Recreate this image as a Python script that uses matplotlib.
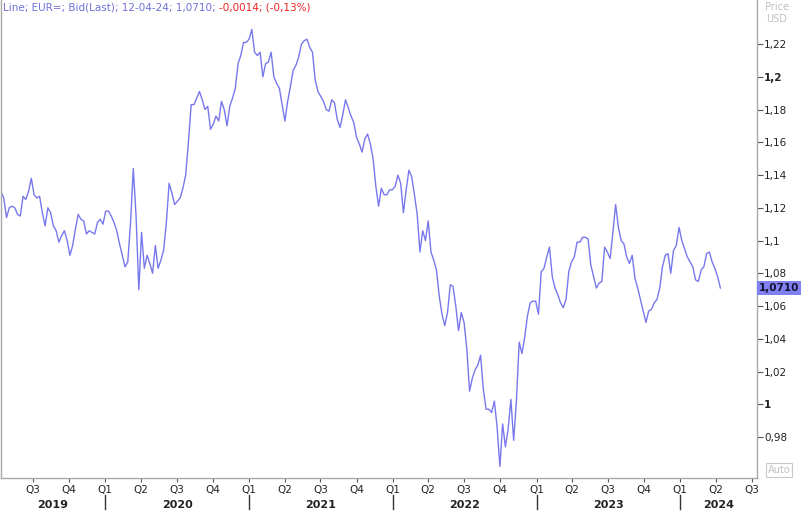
import matplotlib
matplotlib.use("Agg")
import matplotlib.pyplot as plt
import matplotlib.dates as mdates
import matplotlib.transforms as mtransforms
import pandas as pd
import numpy as np

# ---- data (weekly EUR/USD bid) ----
start_date = "2019-04-12"
prices = [
 1.130,1.126,1.114,1.120,1.121,1.120,1.116,1.115,1.127,1.125,
 1.130,1.138,1.128,1.126,1.127,1.117,1.109,1.120,1.117,1.109,
 1.106,1.099,1.103,1.106,1.100,1.091,1.097,1.107,1.116,1.113,
 1.112,1.104,1.106,1.105,1.104,1.111,1.113,1.110,1.118,1.118,
 1.115,1.111,1.106,1.098,1.091,1.084,1.087,1.111,1.144,1.115,
 1.070,1.105,1.083,1.091,1.086,1.080,1.097,1.083,1.088,1.094,
 1.111,1.135,1.129,1.122,1.124,1.126,1.132,1.140,1.160,1.183,
 1.183,1.187,1.191,1.186,1.180,1.182,1.168,1.171,1.176,1.173,
 1.185,1.180,1.170,1.182,1.187,1.193,1.208,1.213,1.221,1.221,
 1.223,1.229,1.215,1.213,1.215,1.200,1.208,1.209,1.215,1.200,
 1.196,1.193,1.183,1.173,1.185,1.194,1.204,1.207,1.212,1.220,
 1.222,1.223,1.218,1.215,1.198,1.191,1.188,1.185,1.180,1.179,
 1.186,1.184,1.174,1.169,1.177,1.186,1.181,1.176,1.172,1.163,
 1.159,1.154,1.162,1.165,1.159,1.150,1.133,1.121,1.132,1.128,
 1.128,1.131,1.131,1.133,1.140,1.135,1.117,1.131,1.143,1.139,
 1.128,1.116,1.093,1.106,1.100,1.112,1.093,1.088,1.082,1.066,
 1.055,1.048,1.056,1.073,1.072,1.060,1.045,1.056,1.050,1.034,
 1.008,1.016,1.021,1.024,1.030,1.009,0.997,0.997,0.995,1.002,
 0.986,0.962,0.988,0.974,0.985,1.003,0.978,1.002,1.038,1.031,
 1.041,1.054,1.062,1.063,1.063,1.055,1.081,1.083,1.090,1.096,
 1.078,1.071,1.067,1.062,1.059,1.064,1.081,1.087,1.090,1.099,
 1.099,1.102,1.102,1.101,1.085,1.078,1.071,1.074,1.075,1.096,
 1.093,1.089,1.105,1.122,1.108,1.100,1.098,1.090,1.086,1.091,
 1.077,1.071,1.064,1.057,1.050,1.057,1.058,1.062,1.064,1.071,
 1.084,1.091,1.092,1.080,1.094,1.097,1.108,1.100,1.095,1.090,
 1.087,1.084,1.076,1.075,1.082,1.084,1.092,1.093,1.087,1.083,
 1.078,1.071,
]
last_price = 1.0710
y_ticks = [0.98, 1.0, 1.02, 1.04, 1.06, 1.08, 1.10, 1.12, 1.14, 1.16, 1.18, 1.20, 1.22]
y_labels = ["0,98", "1", "1,02", "1,04", "1,06", "1,08", "1,1", "1,12", "1,14", "1,16", "1,18", "1,2", "1,22"]
years = [2019, 2020, 2021, 2022, 2023, 2024]

dates = pd.date_range(start_date, periods=len(prices), freq="7D")

W, H = 804, 519
fig = plt.figure(figsize=(W / 100, H / 100), dpi=100)
ax = fig.add_axes([1 / W, 1 - 478 / H, 756 / W, 478 / H])

line_color = "#7878ee"
ax.plot(dates, prices, color=line_color, lw=1.0)

x0 = pd.Timestamp(start_date)
x1 = pd.Timestamp("2024-07-14")
ax.set_xlim(x0, x1)
ax.set_ylim(0.955, 1.2469)

for s in ["left", "right", "bottom"]:
    ax.spines[s].set_color("#a8a8a8")
    ax.spines[s].set_linewidth(1.0)
ax.spines["top"].set_visible(False)

# y axis on right
ax.yaxis.tick_right()
ax.set_yticks(y_ticks)
ax.set_yticklabels(y_labels)
ax.tick_params(axis="y", direction="out", length=4, width=0.8, color="#555555",
               labelsize=7.5, pad=1, labelcolor="#222222")
for lbl, v in zip(ax.get_yticklabels(), y_ticks):
    if abs(v - round(v, 1)) < 1e-9 and round(v, 1) in (1.0, 1.2):
        lbl.set_fontweight("bold")

# x axis quarters
qdates = pd.date_range("2019-07-01", "2024-07-01", freq="QS")
qlabels = [f"Q{(d.month - 1) // 3 + 1}" for d in qdates]
ax.set_xticks(qdates)
ax.set_xticklabels(qlabels)
ax.tick_params(axis="x", direction="out", length=3, width=0.8, color="#555555",
               labelsize=7.5, pad=2, labelcolor="#222222")

trans = mtransforms.blended_transform_factory(ax.transData, ax.transAxes)
for y in years:
    ys = max(pd.Timestamp(f"{y}-01-01"), x0)
    ye = min(pd.Timestamp(f"{y + 1}-01-01"), x1)
    mid = ys + (ye - ys) / 2
    ax.text(mid, -27 / 478, str(y), transform=trans, ha="center", va="center",
            fontsize=8, fontweight="bold", color="#222222")
    if y > 2019:
        xd = mdates.date2num(pd.Timestamp(f"{y}-01-01"))
        ax.plot([xd, xd], [-17 / 478, -31 / 478], transform=trans, color="#333333",
                lw=1.0, clip_on=False)

# last price label
ax.text(1.0 + 2 / 756, last_price, "1,0710", transform=mtransforms.blended_transform_factory(ax.transAxes, ax.transData),
        ha="left", va="center", fontsize=7.5, fontweight="bold", color="#111133",
        bbox=dict(boxstyle="square,pad=0.15", fc="#8080f0", ec="none"))

# header
fig.canvas.draw()
t1 = fig.text(3 / W, 1 - 8 / H, "Line; EUR=; Bid(Last); 12-04-24; 1,0710; ", ha="left", va="center",
              fontsize=7.5, color="#7070d8")
r = fig.canvas.get_renderer()
bb = t1.get_window_extent(renderer=r)
fig.text(bb.x1 / W, 1 - 8 / H, "-0,0014; (-0,13%)", ha="left", va="center", fontsize=7.5, color="#ee2222")

# price USD
fig.text(777 / W, 1 - 7 / H, "Price", ha="center", va="center", fontsize=7, color="#c0c0c0")
fig.text(777 / W, 1 - 19 / H, "USD", ha="center", va="center", fontsize=7, color="#c0c0c0")
fig.text(779 / W, 1 - 470 / H, "Auto", ha="center", va="center", fontsize=7, color="#c0c0c0",
         bbox=dict(boxstyle="square,pad=0.2", fc="white", ec="#c8c8c8", lw=0.8))

fig.savefig("out.png", dpi=100)
